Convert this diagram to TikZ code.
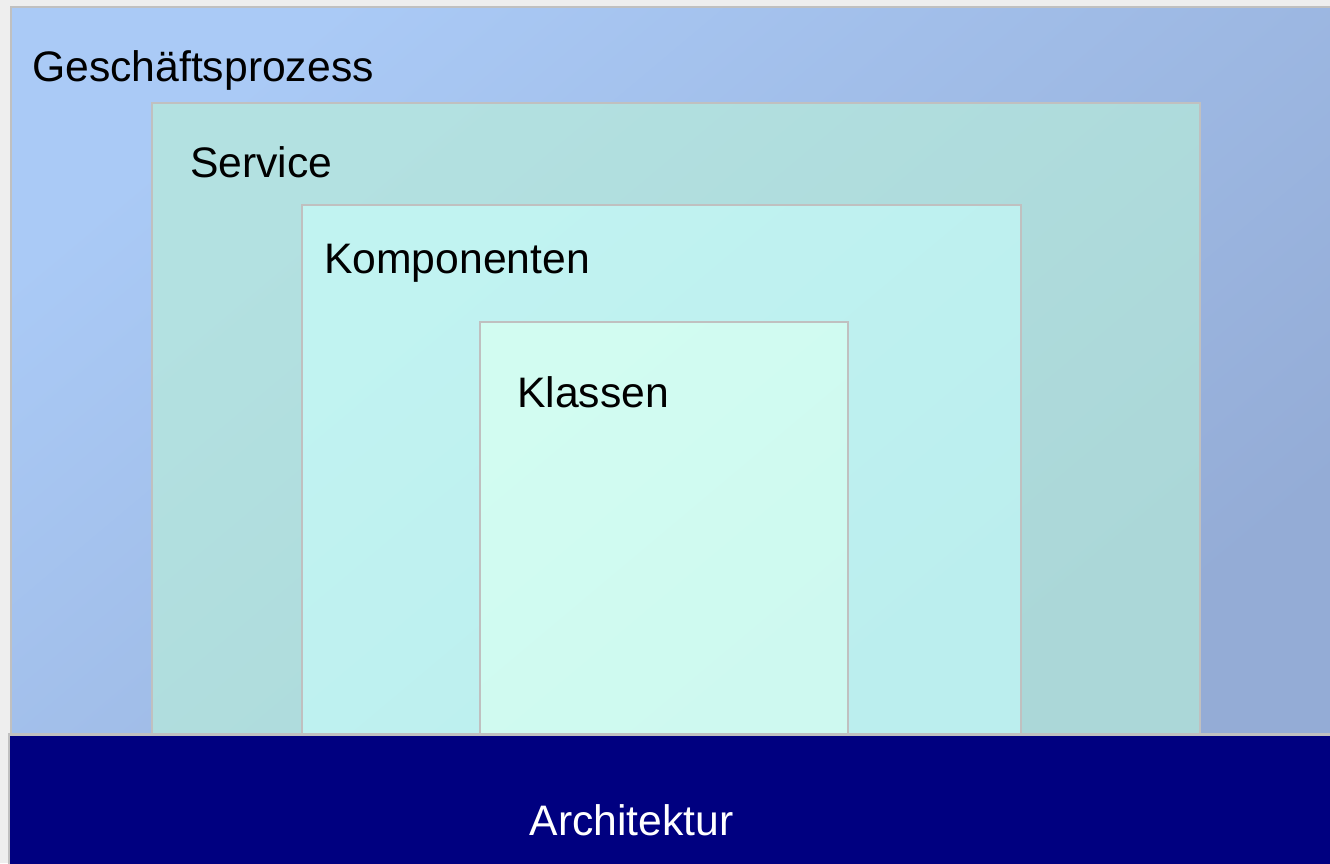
\documentclass[tikz,border=0pt]{standalone}
\usepackage{fontspec}
\setmainfont{Liberation Sans}
\begin{document}
\definecolor{canvas}{HTML}{EEEEEE}
\definecolor{frame}{HTML}{C0C0C0}
\definecolor{procA}{HTML}{AACAF6}
\definecolor{procB}{HTML}{94ACD6}
\definecolor{servA}{HTML}{B3E1E1}
\definecolor{servB}{HTML}{ABD7D8}
\definecolor{compA}{HTML}{C1F3F1}
\definecolor{compB}{HTML}{BBEEEE}
\definecolor{clsA}{HTML}{D2FCF1}
\definecolor{clsB}{HTML}{CEF9F0}
\definecolor{archblue}{HTML}{000080}
\begin{tikzpicture}[x=1pt,y=-1pt,
  layer/.style={draw=frame, line width=2pt, top color=#1A, bottom color=#1B, shading angle=40},
  label/.style={anchor=base west, inner sep=0pt, font=\fontsize{42.67}{51}\selectfont},
]
\useasboundingbox (0,0) rectangle (1330,863);
\fill[canvas] (0,0) rectangle (1330,863);
\clip (0,0) rectangle (1330,863);
% nested layers, outermost first
\path[layer=proc] (10.5,6.5) rectangle (1345,740);
\path[layer=serv] (152,102.5) rectangle (1200,740);
\path[layer=comp] (301.5,204.5) rectangle (1021,740);
\path[layer=cls]  (479.5,321.5) rectangle (848,740);
% architecture band
\fill[frame] (8,733) rectangle (1345,880);
\fill[archblue] (10,736) rectangle (1345,880);
% labels
\node[label] (gp)   at (32,81)   {Geschäftsprozess};
\node[label] (srv)  at (190,177) {Service};
\node[label] (kmp)  at (324,273) {Komponenten};
\node[label] (kls)  at (517,407) {Klassen};
\node[label, anchor=base, text=white] (arch) at (631.5,835) {Architektur};
\end{tikzpicture}
\end{document}
